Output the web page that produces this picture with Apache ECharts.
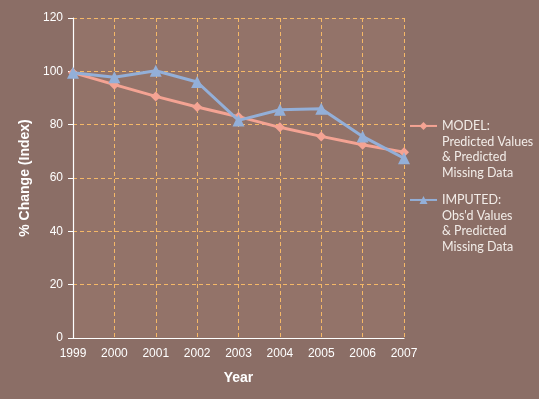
<!DOCTYPE html>
<html><head><meta charset="utf-8">
<script src="https://cdn.jsdelivr.net/npm/echarts@6/dist/echarts.min.js"></script>
<style>html,body{margin:0;padding:0;background:#8b6e66;}#c{width:539px;height:399px;}</style>
</head><body><div id="c"></div>
<script>
var years = ['1999','2000','2001','2002','2003','2004','2005','2006','2007'];
var modelValues = [99.5, 95.0, 90.6, 86.6, 83.0, 79.0, 75.6, 72.5, 69.7];
var imputedValues = [99.5, 97.8, 100.2, 96.0, 81.6, 85.6, 86.0, 75.6, 67.4];
var seriesNames = ['MODEL', 'IMPUTED'];
var legendLabels = {
  'MODEL': 'MODEL:\nPredicted Values\n& Predicted\nMissing Data',
  'IMPUTED': 'IMPUTED:\nObs\'d Values\n& Predicted\nMissing Data'
};
var yTicks = [0, 20, 40, 60, 80, 100, 120];

var chart = echarts.init(document.getElementById('c'));
var legendText = {color:'#f2ece8', fontFamily:'Lato, "Open Sans", sans-serif', fontSize:12.5, lineHeight:15.7};
var fnt = '"Liberation Sans", Arial, sans-serif';
function legendFmt(n){ return '\n\n\n' + legendLabels[n]; }
chart.setOption({
  backgroundColor:'#8b6e66',
  animation:false,
  grid:{left:73, right:135, top:18, bottom:61, show:true, backgroundColor:'#937369', borderWidth:0},
  legend:[
    {data:[seriesNames[0]], orient:'vertical', left:404, top:125-59, itemWidth:27, itemHeight:10,
     formatter:legendFmt, textStyle:legendText, itemGap:0},
    {data:[seriesNames[1]], orient:'vertical', left:404, top:200-60, itemWidth:27, itemHeight:10,
     formatter:legendFmt, textStyle:legendText, itemGap:0}
  ],
  xAxis:{type:'category', data:years, boundaryGap:false,
    name:'Year', nameLocation:'middle', nameGap:33,
    nameTextStyle:{color:'#ffffff', fontWeight:'bold', fontSize:14, fontFamily:fnt},
    axisLine:{lineStyle:{color:'#ffffff', width:1.2}},
    axisTick:{show:false},
    axisLabel:{color:'#ffffff', fontSize:12, margin:10, fontFamily:fnt},
    splitLine:{show:true, lineStyle:{color:'#f5b867', type:[4,3], width:1}}
  },
  yAxis:{type:'value', min:yTicks[0], max:yTicks[yTicks.length-1], interval:20,
    name:'% Change (Index)', nameLocation:'middle', nameGap:39, nameRotate:90,
    nameTextStyle:{color:'#ffffff', fontWeight:'bold', fontSize:14, fontFamily:fnt},
    axisLine:{show:true, lineStyle:{color:'#ffffff', width:1.2}},
    axisTick:{show:true, length:5, lineStyle:{color:'#ffffff'}},
    axisLabel:{color:'#ffffff', fontSize:12, margin:10, fontFamily:fnt},
    splitLine:{show:true, lineStyle:{color:'#f5b867', type:[4,3], width:1}}
  },
  series:[
    {name:seriesNames[0], type:'line', data:modelValues, symbol:'diamond', symbolSize:10,
     lineStyle:{color:'#f4a393', width:3}, itemStyle:{color:'#f4a393'}, z:2},
    {name:seriesNames[1], type:'line', data:imputedValues, symbol:'triangle', symbolSize:12,
     lineStyle:{color:'#93afd8', width:3}, itemStyle:{color:'#93afd8'}, z:3}
  ]
});
</script></body></html>
